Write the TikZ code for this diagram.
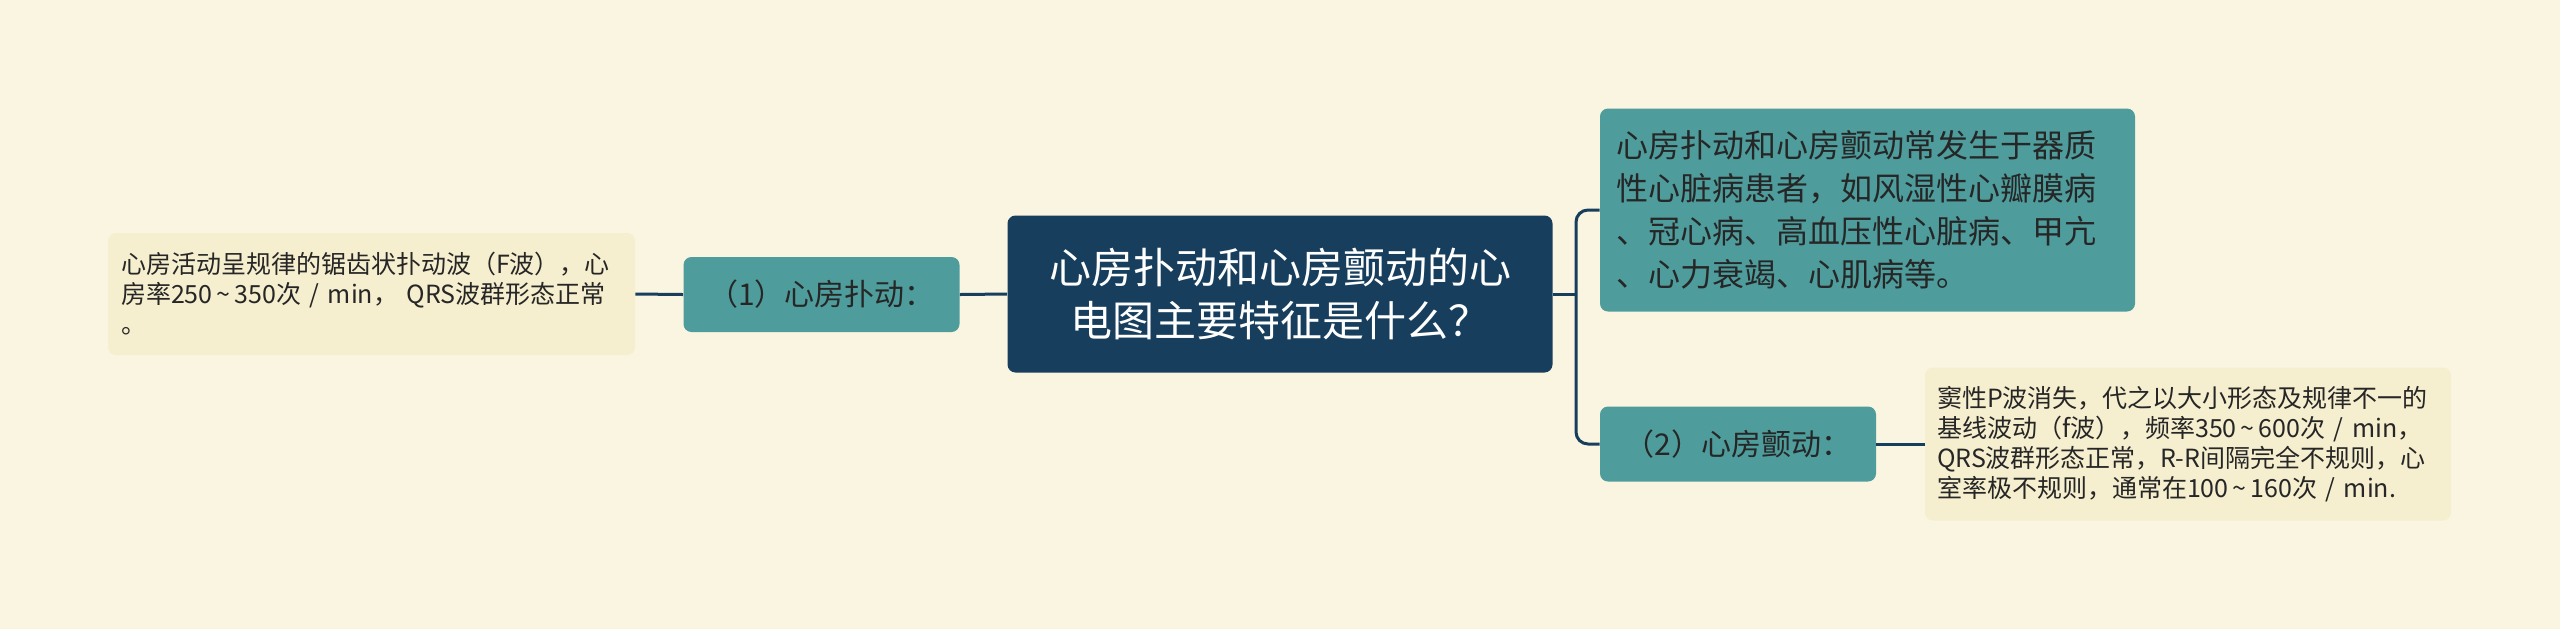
\documentclass[tikz,border=0pt]{standalone}
\usepackage{fontspec}
\newfontfamily\cjk{Noto Sans CJK SC}
\usepackage{tikz}
\definecolor{bgcream}{HTML}{FAF5E1}
\definecolor{leafcream}{HTML}{F5EFCF}
\definecolor{teal}{HTML}{4E9C9C}
\definecolor{navy}{HTML}{173E5D}
\definecolor{ink}{HTML}{262626}
\newcommand{\rng}{\,\textasciitilde\,}
\tikzset{
  box/.style={rounded corners=4pt, anchor=center, inner ysep=0pt},
  rootbox/.style={box, fill=navy, text=white, align=center,
    minimum width=272.5pt, minimum height=78.5pt,
    font=\cjk\fontsize{21}{26.5}\selectfont},
  midbox/.style={box, fill=teal, text=ink, align=center,
    minimum width=138pt, minimum height=37.5pt,
    font=\cjk\fontsize{15}{17}\selectfont},
  notebox/.style={box, fill=teal, text=ink, align=left,
    inner xsep=8pt, text width=251.5pt, minimum height=101.5pt,
    font=\cjk\fontsize{16}{21.5}\selectfont},
  leafbox/.style={box, fill=leafcream, text=ink, align=left,
    inner xsep=6.5pt, text width=250.5pt,
    font=\cjk\fontsize{12.5}{15}\selectfont},
  link/.style={navy, line width=1.5pt}
}
\begin{document}
\begin{tikzpicture}[x=0.5pt, y=-0.5pt]
  \fill [bgcream] (0,0) rectangle (2560,629);
  \useasboundingbox (0,0) rectangle (2560,629);
  % centre and first level
  \node [rootbox] (root) at (1280,294) {心房扑动和心房颤动的心\\电图主要特征是什么？};
  \node [midbox] (flutter) at (821.5,294.5) {（1）心房扑动：};
  \node [midbox] (fib) at (1738,444) {（2）心房颤动：};
  \node [notebox] (cause) at (1867.5,210) {心房扑动和心房颤动常发生于器质\\性心脏病患者，如风湿性心瓣膜病\\、冠心病、高血压性心脏病、甲亢\\、心力衰竭、心肌病等。};
  % leaves
  \node [leafbox, minimum height=61pt] (flutterleaf) at (371.5,294) {心房活动呈规律的锯齿状扑动波（F波），心\\房率250\rng350次 / min， QRS波群形态正常\\。};
  \node [leafbox, inner xsep=6pt, text width=251pt, minimum height=76.5pt] (fibleaf) at (2188,444) {窦性P波消失，代之以大小形态及规律不一的\\基线波动（f波），频率350\rng600次 / min，\\QRS波群形态正常，R-R间隔完全不规则，心\\室率极不规则，通常在100\rng160次 / min.};
  % connectors
  \coordinate (trunk) at (1576,294);
  \draw [link] (root.west) -- (flutter.east);
  \draw [link] (flutter.west) -- (flutterleaf.east);
  \draw [link] (root.east) -- (trunk);
  \draw [link, rounded corners=6pt] (trunk) |- (cause.west);
  \draw [link, rounded corners=6pt] (trunk) |- (fib.west);
  \draw [link] (fib.east) -- (fibleaf.west);
\end{tikzpicture}
\end{document}
